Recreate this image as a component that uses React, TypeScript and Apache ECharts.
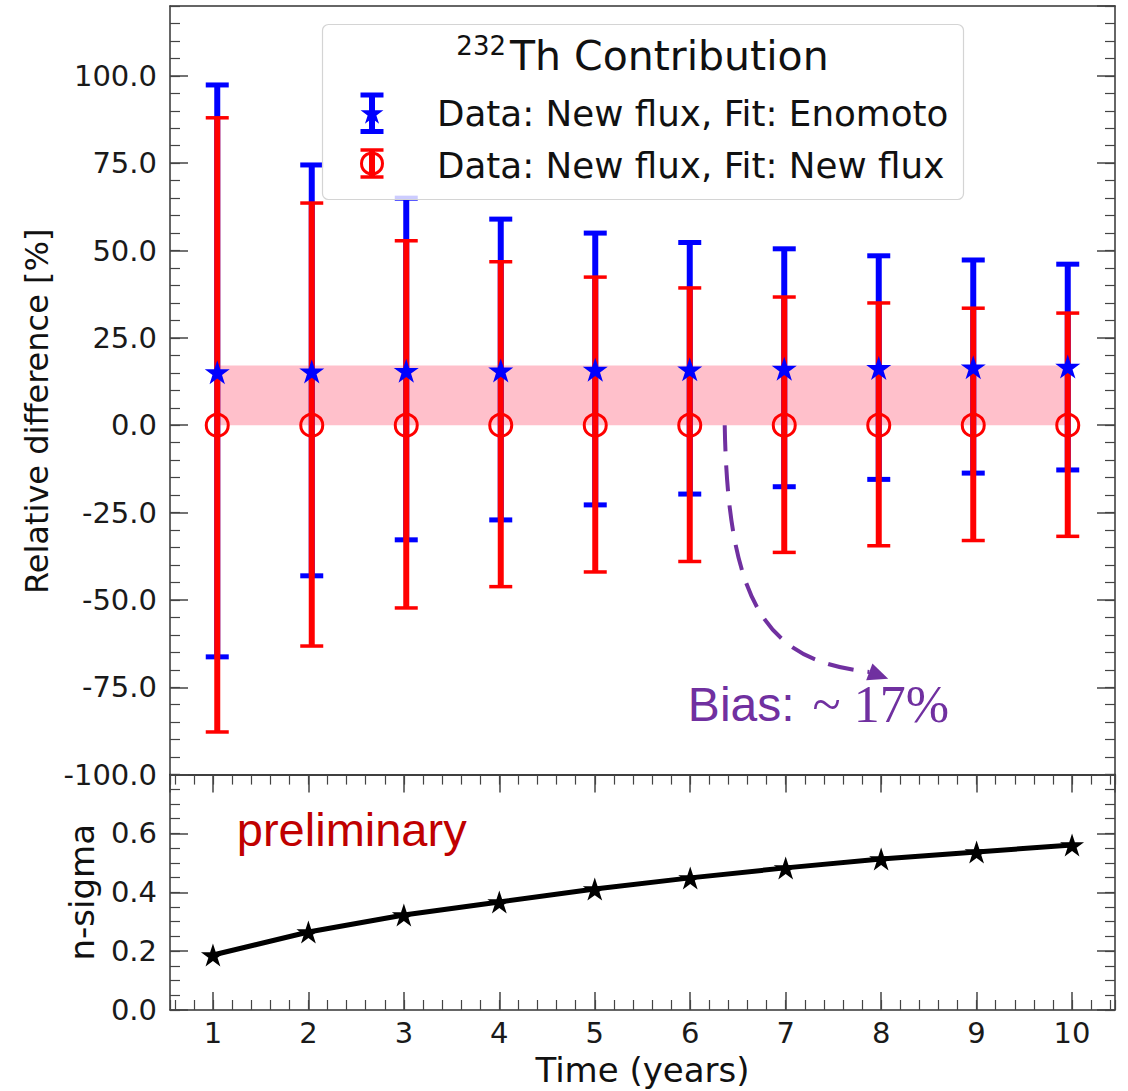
import React, { useEffect, useRef } from "react";
import * as echarts from "echarts";

// ---------------- data ----------------
const years = [1, 2, 3, 4, 5, 6, 7, 8, 9, 10];
const enomotoCenter = [15.2, 15.4, 15.6, 15.7, 15.9, 16.0, 16.2, 16.4, 16.6, 16.8];
const enomotoUpper = [97.4, 74.5, 65.0, 59.0, 55.0, 52.3, 50.5, 48.5, 47.3, 46.1];
const enomotoLower = [-66.3, -43.1, -32.8, -27.1, -22.8, -19.7, -17.6, -15.5, -13.7, -12.8];
const newFluxCenter = [0, 0, 0, 0, 0, 0, 0, 0, 0, 0];
const newFluxUpper = [88.0, 63.6, 52.8, 46.8, 42.4, 39.3, 36.7, 35.0, 33.5, 32.1];
const newFluxLower = [-87.8, -63.2, -52.3, -46.2, -42.0, -39.0, -36.4, -34.5, -33.0, -31.8];
const nSigma = [0.187, 0.265, 0.323, 0.367, 0.411, 0.449, 0.483, 0.513, 0.537, 0.561];
const biasBandX = [1, 10];
const biasBandY = [0, 17.1];
const legendTitleSup = "232";
const legendTitleMain = "Th Contribution";
const legendLabels = ["Data: New flux, Fit: Enomoto", "Data: New flux, Fit: New flux"];
const biasLabel = "Bias:";
const biasValue = "~ 17%";
const prelimLabel = "preliminary";
const topYName = "Relative difference [%]";
const bottomYName = "n-sigma";
const xName = "Time (years)";

// annotation anchors (data coordinates of the top panel)
const arrowPts = [
  [6.37, 0],
  [6.405, -52.0],
  [6.83, -67.6],
  [7.9, -70.6],
  [8.1, -72.6],
];

const FONT = "DejaVu Sans";
const BLUE = "#0000ff";
const RED = "#ff0000";
const PURPLE = "#7030a0";
const TICK = "#444";

function starPoints(cx: number, cy: number, R: number, r: number) {
  const pts: number[][] = [];
  for (let k = 0; k < 10; k++) {
    const a = -Math.PI / 2 + (k * Math.PI) / 5;
    const rad = k % 2 === 0 ? R : r;
    pts.push([cx + rad * Math.cos(a), cy + rad * Math.sin(a)]);
  }
  return pts;
}
const starPath =
  "path://" +
  starPoints(0, 0, 10, 3.82)
    .map((p, i) => (i === 0 ? "M" : "L") + p[0].toFixed(3) + "," + p[1].toFixed(3))
    .join(" ") +
  " Z";

function errorBarSeries(
  name: string,
  color: string,
  lower: number[],
  upper: number[],
  capT: number,
  z: number
) {
  return {
    type: "custom",
    name,
    xAxisIndex: 0,
    yAxisIndex: 0,
    z,
    data: years.map((x, i) => [x, lower[i], upper[i]]),
    encode: { x: 0, y: [1, 2] },
    renderItem: (params: any, api: any) => {
      const x = api.value(0);
      const lo = api.coord([x, api.value(1)]);
      const hi = api.coord([x, api.value(2)]);
      const hw = 11.5;
      return {
        type: "group",
        children: [
          { type: "line", shape: { x1: hi[0], y1: hi[1], x2: lo[0], y2: lo[1] }, style: { stroke: color, lineWidth: 6 } },
          { type: "line", shape: { x1: hi[0] - hw, y1: hi[1], x2: hi[0] + hw, y2: hi[1] }, style: { stroke: color, lineWidth: capT } },
          { type: "line", shape: { x1: lo[0] - hw, y1: lo[1], x2: lo[0] + hw, y2: lo[1] }, style: { stroke: color, lineWidth: capT } },
        ],
      };
    },
  };
}

const labelStyle = { fontFamily: FONT, fontSize: 29, color: "#1a1a1a" };
const frameLine = { show: true, onZero: false, lineStyle: { color: "#333", width: 1.5 } };
const majorTick = { show: true, inside: true, length: 18, lineStyle: { color: TICK, width: 1.5 } };
const minorTick = { show: true, inside: true, length: 10, lineStyle: { color: TICK, width: 1.2 } };
const noLine = { show: false, onZero: false };

function xAx(grid: number, pos: string, min: number, max: number, split: number, opts: any) {
  return {
    type: "value",
    gridIndex: grid,
    position: pos,
    min,
    max,
    splitNumber: split,
    splitLine: { show: false },
    axisLine: noLine,
    axisTick: { show: false },
    axisLabel: { show: false },
    ...opts,
  };
}
function yAx(grid: number, pos: string, min: number, max: number, interval: number, opts: any) {
  return {
    type: "value",
    gridIndex: grid,
    position: pos,
    min,
    max,
    interval,
    splitLine: { show: false },
    axisLine: noLine,
    axisTick: { show: false },
    axisLabel: { show: false },
    ...opts,
  };
}

export default function App() {
  const ref = useRef<HTMLDivElement>(null);
  useEffect(() => {
    document.body.style.margin = "0";
    const chart = echarts.init(ref.current!, undefined, { renderer: "svg" });
    const option: any = {
      animation: false,
      backgroundColor: "#ffffff",
      grid: [
        { left: 170, top: 6, width: 945, height: 768.6 },
        { left: 170, top: 774.6, width: 945, height: 235.4 },
      ],
      xAxis: [
        // top panel: frame only
        xAx(0, "bottom", 0.5, 10.5, 10, { axisLine: frameLine }),
        xAx(0, "top", 0.5, 10.5, 10, { axisLine: frameLine }),
        // bottom panel
        xAx(1, "bottom", 0.55, 10.45, 10, {
          axisLine: frameLine,
          axisTick: majorTick,
          axisLabel: {
            show: true,
            margin: 8,
            showMinLabel: false,
            showMaxLabel: false,
            ...labelStyle,
            formatter: (v: number) => String(Math.round(v)),
          },
          name: xName,
          nameLocation: "middle",
          nameGap: 43,
          nameTextStyle: { fontFamily: FONT, fontSize: 34, color: "#111" },
        }),
        xAx(1, "bottom", 0.55, 10.45, 50, { axisTick: minorTick }),
        xAx(1, "top", 0.55, 10.45, 10, { axisLine: frameLine, axisTick: majorTick }),
        xAx(1, "top", 0.55, 10.45, 50, { axisTick: minorTick }),
      ],
      yAxis: [
        yAx(0, "left", -100, 120, 25, {
          axisLine: frameLine,
          axisTick: majorTick,
          axisLabel: {
            show: true,
            margin: 13,
            showMaxLabel: false,
            ...labelStyle,
            formatter: (v: number) => v.toFixed(1),
          },
          name: topYName,
          nameLocation: "middle",
          nameGap: 112,
          nameTextStyle: { fontFamily: FONT, fontSize: 32, color: "#111", padding: [0, 42, 0, 0] },
        }),
        yAx(0, "left", -100, 120, 5, { axisTick: minorTick }),
        yAx(0, "right", -100, 120, 25, { axisLine: frameLine, axisTick: majorTick }),
        yAx(0, "right", -100, 120, 5, { axisTick: minorTick }),
        yAx(1, "left", 0, 0.8, 0.2, {
          axisLine: frameLine,
          axisTick: majorTick,
          axisLabel: {
            show: true,
            margin: 13,
            showMaxLabel: false,
            ...labelStyle,
            formatter: (v: number) => v.toFixed(1),
          },
          name: bottomYName,
          nameLocation: "middle",
          nameGap: 71,
          nameTextStyle: { fontFamily: FONT, fontSize: 34, color: "#111" },
        }),
        yAx(1, "left", 0, 0.8, 0.05, { axisTick: minorTick }),
        yAx(1, "right", 0, 0.8, 0.2, { axisLine: frameLine, axisTick: majorTick }),
        yAx(1, "right", 0, 0.8, 0.05, { axisTick: minorTick }),
      ],
      series: [
        {
          type: "custom",
          name: "bias band",
          xAxisIndex: 0,
          yAxisIndex: 0,
          z: 1,
          data: [[biasBandX[0], biasBandX[1], biasBandY[0], biasBandY[1]]],
          encode: { x: [0, 1], y: [2, 3] },
          renderItem: (params: any, api: any) => {
            const a = api.coord([api.value(0), api.value(3)]);
            const b = api.coord([api.value(1), api.value(2)]);
            return {
              type: "rect",
              shape: { x: a[0], y: a[1], width: b[0] - a[0], height: b[1] - a[1] },
              style: { fill: "#ffc0cb" },
            };
          },
        },
        errorBarSeries("Enomoto err", BLUE, enomotoLower, enomotoUpper, 5, 2),
        errorBarSeries("New flux err", RED, newFluxLower, newFluxUpper, 3.5, 3),
        {
          type: "scatter",
          name: legendLabels[1],
          xAxisIndex: 0,
          yAxisIndex: 0,
          z: 4,
          data: years.map((x, i) => [x, newFluxCenter[i]]),
          symbol: "circle",
          symbolSize: 22,
          itemStyle: { color: "rgba(0,0,0,0)", borderColor: RED, borderWidth: 3, opacity: 1 },
        },
        {
          type: "scatter",
          name: legendLabels[0],
          xAxisIndex: 0,
          yAxisIndex: 0,
          z: 5,
          data: years.map((x, i) => [x, enomotoCenter[i]]),
          symbol: starPath,
          symbolSize: [25, 24],
          itemStyle: { color: BLUE, opacity: 1 },
        },
        {
          type: "line",
          name: "n-sigma",
          xAxisIndex: 2,
          yAxisIndex: 4,
          z: 5,
          data: years.map((x, i) => [x, nSigma[i]]),
          lineStyle: { color: "#000", width: 5 },
          symbol: starPath,
          symbolSize: [24, 23],
          showSymbol: true,
          itemStyle: { color: "#000" },
        },
      ],
    };
    chart.setOption(option);

    const toPx = (p: number[]) => chart.convertToPixel({ xAxisIndex: 0, yAxisIndex: 0 }, p) as number[];
    const toPxB = (p: number[]) => chart.convertToPixel({ xAxisIndex: 2, yAxisIndex: 4 }, p) as number[];
    const [p0, c1, c2, p3, tip] = arrowPts.map(toPx);
    const dx = tip[0] - p3[0];
    const dy = tip[1] - p3[1];
    const len = Math.hypot(dx, dy);
    const nx = -dy / len;
    const ny = dx / len;
    const hw = 9;
    const biasPos = toPx([5.98, -79.9]);
    const biasValPos = toPx([7.3, -79.9]);
    const prelimPos = toPxB([1.25, 0.612]);

    const lx = 372;
    const row1 = 113;
    const row2 = 165;
    const graphic: any[] = [
      // legend box
      {
        type: "rect",
        z: 50,
        shape: { x: 322.5, y: 24.5, width: 641, height: 175, r: 6 },
        style: { fill: "rgba(255,255,255,0.8)", stroke: "#d4d4d4", lineWidth: 1.2 },
      },
      {
        type: "text",
        z: 51,
        x: 506,
        y: 46,
        style: { text: legendTitleSup, fontFamily: FONT, fontSize: 26, fill: "#111", align: "right", verticalAlign: "middle" },
      },
      {
        type: "text",
        z: 51,
        x: 510,
        y: 56,
        style: { text: legendTitleMain, fontFamily: FONT, fontSize: 41, fill: "#111", align: "left", verticalAlign: "middle" },
      },
      // blue entry icon
      { type: "line", z: 51, shape: { x1: lx, y1: 95, x2: lx, y2: 131.5 }, style: { stroke: BLUE, lineWidth: 6 } },
      { type: "line", z: 51, shape: { x1: lx - 11.5, y1: 95, x2: lx + 11.5, y2: 95 }, style: { stroke: BLUE, lineWidth: 5 } },
      { type: "line", z: 51, shape: { x1: lx - 11.5, y1: 131.5, x2: lx + 11.5, y2: 131.5 }, style: { stroke: BLUE, lineWidth: 5 } },
      { type: "polygon", z: 52, shape: { points: starPoints(lx, row1 + 1, 12, 4.6) }, style: { fill: BLUE } },
      {
        type: "text",
        z: 51,
        x: 437,
        y: row1,
        style: { text: legendLabels[0], fontFamily: FONT, fontSize: 35.7, fill: "#111", align: "left", verticalAlign: "middle" },
      },
      // red entry icon
      { type: "line", z: 51, shape: { x1: lx, y1: 150, x2: lx, y2: 177 }, style: { stroke: RED, lineWidth: 6 } },
      { type: "line", z: 51, shape: { x1: lx - 11.5, y1: 150, x2: lx + 11.5, y2: 150 }, style: { stroke: RED, lineWidth: 3.5 } },
      { type: "line", z: 51, shape: { x1: lx - 11.5, y1: 177, x2: lx + 11.5, y2: 177 }, style: { stroke: RED, lineWidth: 3.5 } },
      { type: "circle", z: 52, shape: { cx: lx, cy: 163.5, r: 10.5 }, style: { fill: "none", stroke: RED, lineWidth: 3 } },
      {
        type: "text",
        z: 51,
        x: 437,
        y: row2,
        style: { text: legendLabels[1], fontFamily: FONT, fontSize: 35.7, fill: "#111", align: "left", verticalAlign: "middle" },
      },
      // bias arrow
      {
        type: "bezierCurve",
        z: 40,
        shape: { x1: p0[0], y1: p0[1], cpx1: c1[0], cpy1: c1[1], cpx2: c2[0], cpy2: c2[1], x2: p3[0], y2: p3[1] },
        style: { stroke: PURPLE, lineWidth: 4, lineDash: [26, 14], fill: "none" },
      },
      {
        type: "polygon",
        z: 40,
        shape: {
          points: [
            [tip[0], tip[1]],
            [p3[0] + nx * hw, p3[1] + ny * hw],
            [p3[0] - nx * hw, p3[1] - ny * hw],
          ],
        },
        style: { fill: PURPLE },
      },
      {
        type: "text",
        z: 40,
        x: biasPos[0],
        y: biasPos[1],
        style: { text: biasLabel, fontFamily: "Liberation Sans", fontSize: 48, fill: PURPLE, align: "left", verticalAlign: "middle" },
      },
      {
        type: "text",
        z: 40,
        x: biasValPos[0],
        y: biasValPos[1],
        style: { text: biasValue, fontFamily: "Liberation Serif", fontSize: 52, fill: PURPLE, align: "left", verticalAlign: "middle" },
      },
      {
        type: "text",
        z: 40,
        x: prelimPos[0],
        y: prelimPos[1],
        style: { text: prelimLabel, fontFamily: "Liberation Sans", fontSize: 47, fill: "#c00000", align: "left", verticalAlign: "middle" },
      },
    ];
    chart.setOption({ graphic });

    return () => chart.dispose();
  }, []);
  return <div ref={ref} style={{ width: 1128, height: 1091 }} />;
}
